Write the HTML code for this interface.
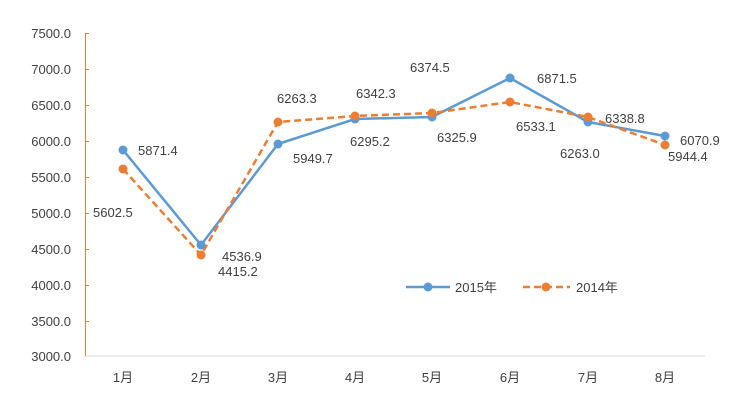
<!DOCTYPE html>
<html><head><meta charset="utf-8"><style>
html,body{margin:0;padding:0;background:#fff;}
svg text{font-family:"Liberation Sans","Noto Sans CJK SC",sans-serif;font-size:13px;fill:#404040;}
</style></head><body>
<svg width="745" height="402" viewBox="0 0 745 402" xmlns="http://www.w3.org/2000/svg">
<rect width="745" height="402" fill="#fff"/>
<g text-anchor="end">
<text x="71" y="38">7500.0</text><text x="71" y="74">7000.0</text><text x="71" y="110">6500.0</text>
<text x="71" y="146">6000.0</text><text x="71" y="182">5500.0</text><text x="71" y="218">5000.0</text>
<text x="71" y="254">4500.0</text><text x="71" y="290">4000.0</text><text x="71" y="326">3500.0</text>
<text x="71" y="361">3000.0</text>
</g>
<line x1="85" y1="356" x2="705" y2="356" stroke="#d9d9d9" stroke-width="1"/>
<g stroke="#ED7D31" stroke-width="1">
<line x1="85.5" y1="33" x2="85.5" y2="356"/>
<line x1="85" y1="33.5" x2="89" y2="33.5"/><line x1="85" y1="69.5" x2="89" y2="69.5"/>
<line x1="85" y1="105.5" x2="89" y2="105.5"/><line x1="85" y1="141.5" x2="89" y2="141.5"/>
<line x1="85" y1="177.5" x2="89" y2="177.5"/><line x1="85" y1="213.5" x2="89" y2="213.5"/>
<line x1="85" y1="249.5" x2="89" y2="249.5"/><line x1="85" y1="285.5" x2="89" y2="285.5"/>
<line x1="85" y1="321.5" x2="89" y2="321.5"/>
</g>
<g text-anchor="middle">
<text x="123" y="382">1月</text><text x="201" y="382">2月</text><text x="278" y="382">3月</text>
<text x="355" y="382">4月</text><text x="432" y="382">5月</text><text x="510" y="382">6月</text>
<text x="588" y="382">7月</text><text x="665" y="382">8月</text>
</g>
<polyline fill="none" stroke="#5B9BD5" stroke-width="2.5" points="123,150 201,245 278,144 355,119 432,117 510,78 588,122 665,136"/>
<polyline fill="none" stroke="#ED7D31" stroke-width="2.5" stroke-dasharray="7,4" points="123,169 201,255 278,122 355,116 432,113 510,102 588,117 665,145"/>
<g fill="#5B9BD5">
<circle cx="123" cy="150" r="4.5"/><circle cx="201" cy="245" r="4.5"/><circle cx="278" cy="144" r="4.5"/>
<circle cx="355" cy="119" r="4.5"/><circle cx="432" cy="117" r="4.5"/><circle cx="510" cy="78" r="4.5"/>
<circle cx="588" cy="122" r="4.5"/><circle cx="665" cy="136" r="4.5"/>
</g>
<g fill="#ED7D31">
<circle cx="123" cy="169" r="4.5"/><circle cx="201" cy="255" r="4.5"/><circle cx="278" cy="122" r="4.5"/>
<circle cx="355" cy="116" r="4.5"/><circle cx="432" cy="113" r="4.5"/><circle cx="510" cy="102" r="4.5"/>
<circle cx="588" cy="117" r="4.5"/><circle cx="665" cy="145" r="4.5"/>
</g>
<text x="138" y="155">5871.4</text>
<text x="93" y="217">5602.5</text>
<text x="222" y="261">4536.9</text>
<text x="218" y="276">4415.2</text>
<text x="277" y="103">6263.3</text>
<text x="293" y="163">5949.7</text>
<text x="356" y="98">6342.3</text>
<text x="350" y="146">6295.2</text>
<text x="410" y="72">6374.5</text>
<text x="437" y="142">6325.9</text>
<text x="537" y="83">6871.5</text>
<text x="516" y="131">6533.1</text>
<text x="605" y="123">6338.8</text>
<text x="560" y="158">6263.0</text>
<text x="680" y="145">6070.9</text>
<text x="668" y="161">5944.4</text>
<line x1="406" y1="287" x2="450" y2="287" stroke="#5B9BD5" stroke-width="2.5"/>
<circle cx="428" cy="287" r="4.5" fill="#5B9BD5"/>
<text x="455" y="292">2015年</text>
<line x1="523" y1="287" x2="570" y2="287" stroke="#ED7D31" stroke-width="2.5" stroke-dasharray="7,4"/>
<circle cx="546" cy="287" r="4.5" fill="#ED7D31"/>
<text x="576" y="292">2014年</text>
</svg>
</body></html>
